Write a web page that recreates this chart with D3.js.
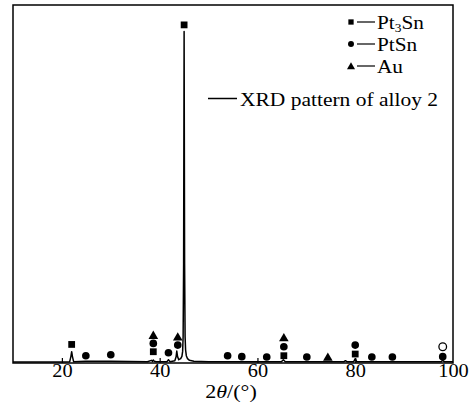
<!DOCTYPE html>
<html>
<head>
<meta charset="utf-8">
<script src="https://cdn.jsdelivr.net/npm/d3@7"></script>
<style>
  body { margin: 0; background: #fff; }
  svg text { font-family: "Liberation Serif", "Times New Roman", Times, serif; fill: #000; }
</style>
</head>
<body>
<div id="chart"></div>
<script>
// XRD pattern of alloy 2 (2theta in degrees, intensity in % of the main peak)
var patternTheta = [10, 19.5, 21.6, 21.85, 22.0, 22.15, 22.4, 24.9, 30.0, 37.5, 38.3, 38.5, 38.7,
  38.9, 39.3, 41.5, 41.8, 42.1, 43.1, 43.35, 43.5, 43.65, 43.9, 44.3, 44.55, 44.7, 44.8, 44.9,
  45.0, 45.1, 45.2, 45.3, 45.45, 45.7, 46.1, 47.0, 50, 64.9, 65.3, 65.7, 77.7, 78.0, 78.3, 79.7,
  80.0, 80.3, 97.6, 97.9, 98.2, 100];
var patternInt = [0.3, 0.3, 0.4, 2.0, 3.4, 2.0, 0.4, 0.5, 0.5, 0.4, 0.8, 0.5, 0.9,
  0.5, 0.4, 0.4, 1.0, 0.4, 0.7, 1.8, 3.6, 2.0, 1.0, 1.3, 2.0, 3.5, 8, 30,
  100, 30, 8, 4, 2.2, 1.3, 0.8, 0.5, 0.4, 0.4, 1.0, 0.4, 0.4, 0.7, 0.4, 0.4,
  1.3, 0.4, 0.4, 0.8, 0.4, 0.4];

// phase markers: position and height of each symbol
var pt3snTheta = [22.0, 38.7, 45.0, 65.4, 80.0];
var pt3snInt = [5.6, 3.4, 102.0, 2.2, 2.7];
var ptsnTheta = [24.9, 30.0, 38.7, 41.8, 43.7, 53.9, 56.8, 61.9, 65.4, 70.1, 80.0, 83.4, 87.6, 97.9];
var ptsnInt = [2.2, 2.5, 5.9, 3.1, 5.4, 2.2, 1.9, 1.8, 4.9, 1.8, 5.4, 1.8, 1.8, 1.9];
var auTheta = [38.7, 43.7, 65.4, 74.4];
var auInt = [8.4, 7.9, 7.7, 1.8];
var otherTheta = [97.9];
var otherInt = [4.9];

var xTicks = [20, 40, 60, 80, 100];
var legendLabels = ["Pt3Sn", "PtSn", "Au"];
var lineLabel = "XRD pattern of alloy 2";

var W = 471, H = 416;
var m = { left: 13, right: 453, top: 5, bottom: 363 };
var serif = "Liberation Serif, Times New Roman, serif";
var stretch = "scale(1.13,1)"; // the source figure's lettering is a bit wide

var svg = d3.select("#chart").append("svg")
  .attr("width", W)
  .attr("height", H);

var x = d3.scaleLinear().domain([10, 100]).range([m.left, m.right]);
var y = d3.scaleLinear().domain([0, 108]).range([m.bottom, m.top]);

// frame
svg.append("rect")
  .attr("x", m.left).attr("y", m.top)
  .attr("width", m.right - m.left).attr("height", m.bottom - m.top)
  .attr("fill", "none").attr("stroke", "#000").attr("stroke-width", 1.5);

// bottom axis, inward ticks
var xAxis = d3.axisBottom(x).tickValues(xTicks).tickSizeInner(-5).tickSizeOuter(0).tickPadding(1);
var gx = svg.append("g").attr("transform", "translate(0," + m.bottom + ")").call(xAxis);
gx.attr("font-family", serif).attr("font-size", 18);
gx.select(".domain").remove();
gx.selectAll("line").attr("stroke", "#000").attr("stroke-width", 1.2);
gx.selectAll("text")
  .attr("font-family", serif).attr("font-size", 18).attr("fill", "#000")
  .attr("transform", stretch);
gx.selectAll(".tick").filter(function(d) { return d === 100; }).select("line").remove();

svg.append("g")
  .attr("transform", "translate(231,398) scale(1.16,1)")
  .append("text")
  .attr("text-anchor", "middle")
  .attr("font-family", serif)
  .attr("font-size", 19)
  .html('2<tspan font-style="italic">θ</tspan>/(°)');

// pattern line
var pts = patternTheta.map(function(t, i) { return [t, patternInt[i]]; });
var line = d3.line().x(function(d) { return x(d[0]); }).y(function(d) { return y(d[1]); });
svg.append("path")
  .datum(pts)
  .attr("d", line)
  .attr("fill", "none")
  .attr("stroke", "#000")
  .attr("stroke-width", 1.5)
  .attr("stroke-linejoin", "round");

function drawMarkers(thetas, ints, type, filled) {
  var sym = d3.symbol().type(type).size(type === d3.symbolTriangle ? 40 : 46);
  svg.append("g").selectAll("path")
    .data(thetas.map(function(t, i) { return [t, ints[i]]; }))
    .enter().append("path")
    .attr("d", sym)
    .attr("transform", function(d) {
      var dy = type === d3.symbolTriangle ? 1 : 0;
      return "translate(" + x(d[0]) + "," + (y(d[1]) + dy) + ")";
    })
    .attr("fill", filled ? "#000" : "#fff")
    .attr("stroke", "#000")
    .attr("stroke-width", filled ? 0 : 1.3);
}
drawMarkers(pt3snTheta, pt3snInt, d3.symbolSquare, true);
drawMarkers(ptsnTheta, ptsnInt, d3.symbolCircle, true);
drawMarkers(auTheta, auInt, d3.symbolTriangle, true);
drawMarkers(otherTheta, otherInt, d3.symbolCircle, false);

// legend
var legTypes = [d3.symbolSquare, d3.symbolCircle, d3.symbolTriangle];
var legRows = [22, 44, 66];
legendLabels.forEach(function(lab, i) {
  var yy = legRows[i];
  svg.append("path")
    .attr("d", d3.symbol().type(legTypes[i]).size(28))
    .attr("transform", "translate(351," + (yy + (i === 2 ? 1 : 0)) + ")")
    .attr("fill", "#000");
  svg.append("line")
    .attr("x1", 357).attr("x2", 375).attr("y1", yy).attr("y2", yy)
    .attr("stroke", "#000").attr("stroke-width", 1.2);
  var t = svg.append("g")
    .attr("transform", "translate(377," + (yy + 7) + ") scale(1.12,1)")
    .append("text")
    .attr("font-family", serif)
    .attr("font-size", 19);
  if (lab === "Pt3Sn") {
    t.append("tspan").text("Pt");
    t.append("tspan").text("3").attr("font-size", 12).attr("dy", 3);
    t.append("tspan").text("Sn").attr("dy", -3);
  } else {
    t.text(lab);
  }
});

svg.append("line")
  .attr("x1", 208).attr("x2", 237).attr("y1", 98.5).attr("y2", 98.5)
  .attr("stroke", "#000").attr("stroke-width", 1.5);
svg.append("text")
  .attr("x", 240).attr("y", 106)
  .attr("font-family", serif)
  .attr("font-size", 19)
  .attr("textLength", 198)
  .attr("lengthAdjust", "spacingAndGlyphs")
  .text(lineLabel);
</script>
</body>
</html>
